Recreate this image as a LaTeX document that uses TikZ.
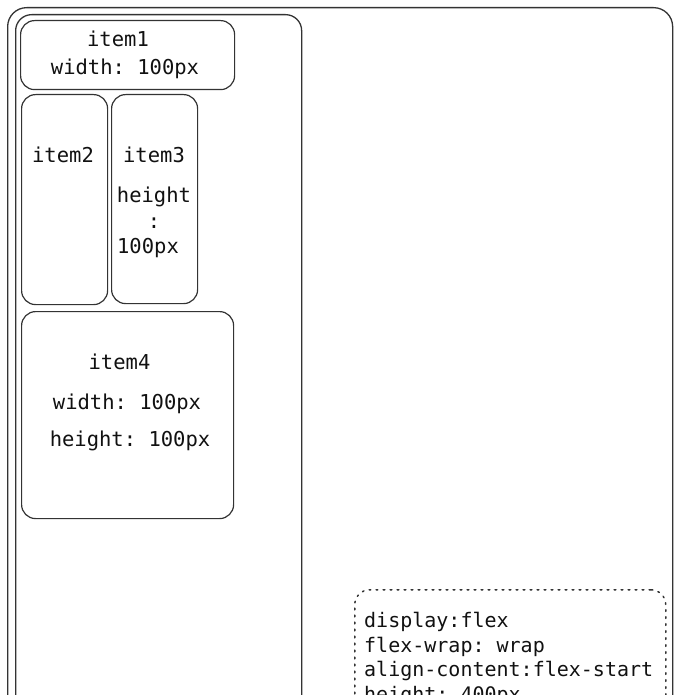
\documentclass[tikz,border=0pt]{standalone}
\usepackage{fontspec}
\setmonofont{DejaVu Sans Mono}
\definecolor{linec}{HTML}{333333}
\definecolor{textc}{HTML}{111111}
\begin{document}
\begin{tikzpicture}[x=1pt,y=-1pt,
  box/.style={draw=linec, line width=1.2pt, rounded corners=14pt, inner sep=0pt, anchor=north west},
  frame/.style={draw=linec, line width=1.3pt, inner sep=0pt, anchor=north west},
  itemtxt/.style={text=textc, font=\ttfamily\fontsize{20.5}{24}\selectfont, anchor=base, inner sep=0pt},
  notetxt/.style={text=textc, font=\ttfamily\fontsize{20}{24}\selectfont, anchor=base west, inner sep=0pt},
  note/.style={draw=linec, line width=1.5pt, dash pattern=on 1.6pt off 5.4pt, line cap=round, rounded corners=15pt, inner sep=0pt, anchor=north west}]
\useasboundingbox (0,0) rectangle (680,695);
\clip (0,0) rectangle (680,695);
% containers
\node[frame, rounded corners=19pt, minimum width=665pt, minimum height=760pt] (outer) at (7,7) {};
\node[frame, rounded corners=16pt, minimum width=286pt, minimum height=760pt] (inner) at (15,14) {};
% items
\node[box, minimum width=214pt, minimum height=69pt] (item1) at (20,20) {};
\node[box, minimum width=86pt, minimum height=210pt] (item2) at (21,94) {};
\node[box, minimum width=86pt, minimum height=209pt] (item3) at (111,94) {};
\node[box, minimum width=212pt, minimum height=207pt] (item4) at (21,311) {};
% item texts
\node[itemtxt] (t1a) at (118,47) {item1};
\node[itemtxt] (t1b) at (125,75) {width: 100px};
\node[itemtxt] (t2a) at (63,162) {item2};
\node[itemtxt] (t3a) at (154,162) {item3};
\node[itemtxt] (t3b) at (154,202) {height};
\node[itemtxt] (t3c) at (154,228) {:};
\node[itemtxt] (t3d) at (148,253) {100px};
\node[itemtxt] (t4a) at (119.5,369) {item4};
\node[itemtxt] (t4b) at (127,409) {width: 100px};
\node[itemtxt] (t4c) at (130,446) {height: 100px};
% note
\node[note, minimum width=311pt, minimum height=200pt] (notebox) at (354,589) {};
\node[notetxt] (n1) at (364,627) {display:flex};
\node[notetxt] (n2) at (364,652) {flex-wrap: wrap};
\node[notetxt] (n3) at (364,676.5) {align-content:flex-start};
\node[notetxt] (n4) at (364,701) {height: 400px};
\end{tikzpicture}
\end{document}
